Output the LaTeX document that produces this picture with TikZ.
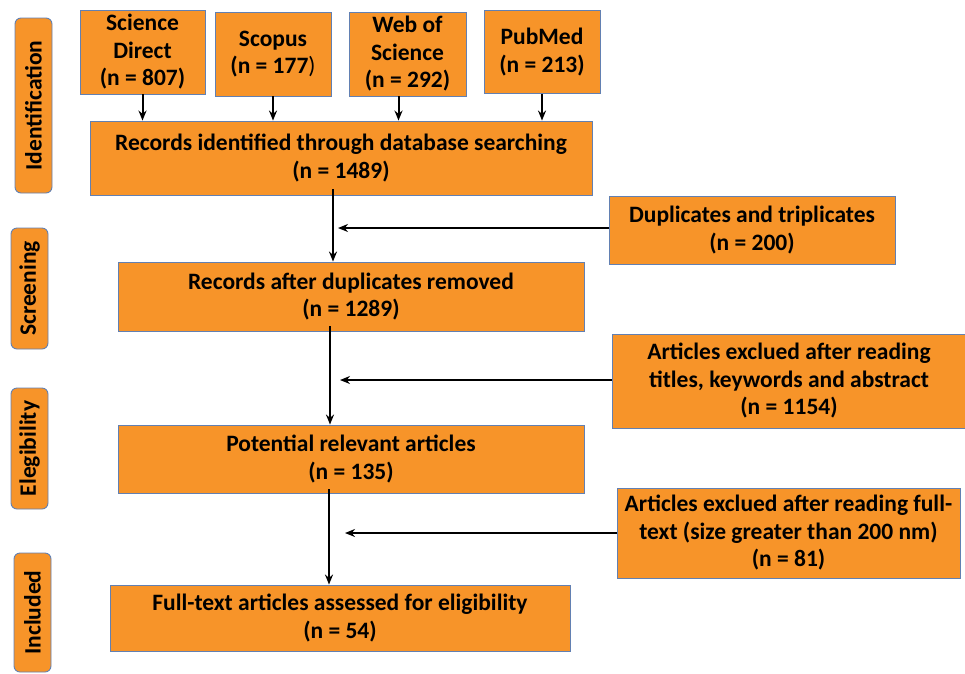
\documentclass[tikz,border=0pt]{standalone}
\usepackage{fontspec}
\setmainfont{Carlito}
\usetikzlibrary{arrows.meta}
\definecolor{prisma}{RGB}{247,148,41}
\definecolor{boxline}{RGB}{98,128,178}
\tikzset{
    box/.style={draw=boxline, fill=prisma, line width=0.9pt, align=center, inner sep=0pt,
        font=\bfseries\fontsize{23.5}{27.5}\selectfont},
    phase/.style={box, rounded corners=6pt, rotate=90},
    link/.style={-{Stealth[length=10pt,width=8pt]}, line width=2pt}
}

\begin{document}
\begin{tikzpicture}[x=1pt, y=-1pt]
    \useasboundingbox (0,0) rectangle (965,673);
    % phases
    \node[phase, minimum width=175, minimum height=37] (ident) at (33.5,105.5) {Identification};
    \node[phase, minimum width=121, minimum height=37] (screen) at (29.5,288.5) {Screening};
    \node[phase, minimum width=121, minimum height=37] (elig) at (29.5,448.5) {Elegibility};
    \node[phase, minimum width=119, minimum height=37] (incl) at (32.5,612.5) {Included};
    % databases
    \node[box, minimum width=125, minimum height=84] (sd) at (142.5,52) {Science\\Direct\\(n = 807)};
    \node[box, minimum width=116, minimum height=84] (sc) at (273,54) {Scopus\\(n = 177{\mdseries )}};
    \node[box, minimum width=117, minimum height=84] (ws) at (407.5,54) {Web of\\Science\\(n = 292)};
    \node[box, minimum width=116, minimum height=83] (pm) at (542,52) {PubMed\\(n = 213)};
    % main column
    \node[box, minimum width=502, minimum height=74] (rid) at (341,158) {Records identified through database searching\\(n = 1489)};
    \node[box, minimum width=466, minimum height=69] (rad) at (351,296.5) {Records after duplicates removed\\(n = 1289)};
    \node[box, minimum width=466, minimum height=68] (pra) at (351,459) {Potential relevant articles\\(n = 135)};
    \node[box, minimum width=460, minimum height=66] (fta) at (340,618) {Full-text articles assessed for eligibility\\(n = 54)};
    % exclusions
    \node[box, minimum width=286, minimum height=68] (dup) at (752,230) {Duplicates and triplicates\\(n = 200)};
    \node[box, minimum width=354, minimum height=94] (ex1) at (789,381) {Articles exclued after reading\\titles, keywords and abstract\\(n = 1154)};
    \node[box, minimum width=343, minimum height=90] (ex2) at (788.5,533) {Articles exclued after reading full-\\text (size greater than 200 nm)\\(n = 81)};
    % arrows
    \draw[link] (sd.south) -- (sd.south |- rid.north);
    \draw[link] (sc.south) -- (sc.south |- rid.north);
    \draw[link] ([xshift=-9]ws.south) -- ([xshift=-9]ws.south |- rid.north);
    \draw[link] (pm.south) -- (pm.south |- rid.north);
    \coordinate (j1) at (338,228);
    \coordinate (j2) at (340,380);
    \coordinate (j3) at (345,533);
    \draw[link] ([xshift=-8,yshift=6]rid.south) -- ([xshift=-8]rid.south |- rad.north);
    \draw[link] ([xshift=-21,yshift=5]rad.south) -- ([xshift=-21]rad.south |- pra.north);
    \draw[link] ([xshift=-22,yshift=4]pra.south) -- ([xshift=-22]pra.south |- fta.north);
    \draw[link] (dup.west |- j1) -- (j1);
    \draw[link] (ex1.west |- j2) -- (j2);
    \draw[link] (ex2.west |- j3) -- (j3);
\end{tikzpicture}
\end{document}
